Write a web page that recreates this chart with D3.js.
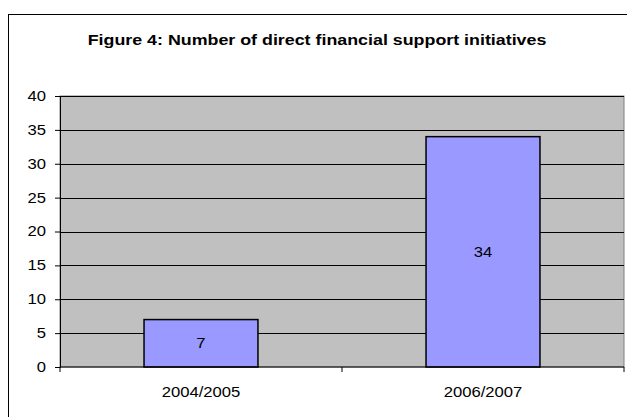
<!DOCTYPE html>
<html>
<head>
<meta charset="utf-8">
<script src="https://cdn.jsdelivr.net/npm/d3@7"></script>
<style>
  body { margin: 0; background: #fff; }
  text { font-family: "Liberation Sans", Arial, sans-serif; fill: #000; }
</style>
</head>
<body>
<svg id="chart" width="627" height="417"></svg>
<script>
/* ==== Data ==== */
var periods = ["2004/2005", "2006/2007"];
var initiatives = [7, 34];
var yTicks = [0, 5, 10, 15, 20, 25, 30, 35, 40];
var chartTitle = "Figure 4: Number of direct financial support initiatives";

/* ==== Layout ==== */
var PLOT_LEFT = 60, PLOT_RIGHT = 624, PLOT_TOP = 96, PLOT_BOTTOM = 367;
var STRETCH = 1.19; // reference glyphs are a bit wider than Liberation Sans

// places a text at (x, y), stretched horizontally round its anchor
function place(x, y) { return "translate(" + x + "," + y + ") scale(" + STRETCH + ",1)"; }

var svg = d3.select("#chart");

// outer chart frame
svg.append("rect")
   .attr("x", 8.5).attr("y", 14.5)
   .attr("width", 640).attr("height", 420)
   .attr("fill", "#fff").attr("stroke", "#000").attr("stroke-width", 1);

svg.append("text")
   .attr("transform", place(317, 45))
   .attr("text-anchor", "middle")
   .attr("font-weight", "bold")
   .attr("font-size", "15px")
   .text(chartTitle);

var x = d3.scaleBand().domain(periods).range([PLOT_LEFT, PLOT_RIGHT]).paddingInner(0.596).paddingOuter(0.298);
var xBand = d3.scaleBand().domain(periods).range([PLOT_LEFT, PLOT_RIGHT]);
var y = d3.scaleLinear().domain([0, 40]).range([PLOT_BOTTOM, PLOT_TOP]);

// plot area
svg.append("rect")
   .attr("x", PLOT_LEFT).attr("y", PLOT_TOP)
   .attr("width", PLOT_RIGHT - PLOT_LEFT).attr("height", PLOT_BOTTOM - PLOT_TOP)
   .attr("fill", "#c0c0c0").attr("stroke", "#808080").attr("stroke-width", 1);

// gridlines
svg.append("g").selectAll("line")
   .data(yTicks.filter(d => d > 0))
   .enter().append("line")
   .attr("x1", PLOT_LEFT).attr("x2", PLOT_RIGHT)
   .attr("y1", d => Math.round(y(d)) + 0.5).attr("y2", d => Math.round(y(d)) + 0.5)
   .attr("stroke", "#000").attr("stroke-width", 1);

/* ==== Bars ==== */
var bars = svg.append("g").selectAll("g")
   .data(periods.map((p, i) => ({ period: p, value: initiatives[i] })))
   .enter().append("g");

bars.append("rect")
    .attr("x", d => x(d.period))
    .attr("y", d => y(d.value))
    .attr("width", x.bandwidth())
    .attr("height", d => y(0) - y(d.value))
    .attr("fill", "#9999ff").attr("stroke", "#000").attr("stroke-width", 1.5);

bars.append("text")
    .attr("transform", d => place(x(d.period) + x.bandwidth() / 2, (y(0) + y(d.value)) / 2))
    .attr("dy", "0.35em")
    .attr("text-anchor", "middle")
    .attr("font-size", "14px")
    .text(d => d.value);

/* ==== Axes ==== */
var yAxis = svg.append("g")
   .attr("transform", "translate(" + PLOT_LEFT + ",0)")
   .call(d3.axisLeft(y).tickValues(yTicks).tickSize(5).tickPadding(8));
yAxis.select(".domain").attr("stroke", "#000");
yAxis.selectAll(".tick text")
     .attr("x", null)
     .attr("transform", place(-14, 0))
     .attr("font-size", "14px")
     .attr("font-family", "Liberation Sans, Arial, sans-serif");

var xAxis = svg.append("g")
   .attr("transform", "translate(0," + PLOT_BOTTOM + ")");
xAxis.append("line")
   .attr("x1", PLOT_LEFT).attr("x2", PLOT_RIGHT)
   .attr("y1", 0).attr("y2", 0).attr("stroke", "#000");
var xTickPos = [PLOT_LEFT].concat(periods.map(p => xBand(p) + xBand.bandwidth()));
xAxis.selectAll(".tick")
   .data(xTickPos)
   .enter().append("line")
   .attr("x1", d => d).attr("x2", d => d)
   .attr("y1", 0).attr("y2", 5).attr("stroke", "#000");
xAxis.selectAll(".cat")
   .data(periods)
   .enter().append("text")
   .attr("transform", d => place(xBand(d) + xBand.bandwidth() / 2, 30))
   .attr("text-anchor", "middle")
   .attr("font-size", "14px")
   .text(d => d);
</script>
</body>
</html>
